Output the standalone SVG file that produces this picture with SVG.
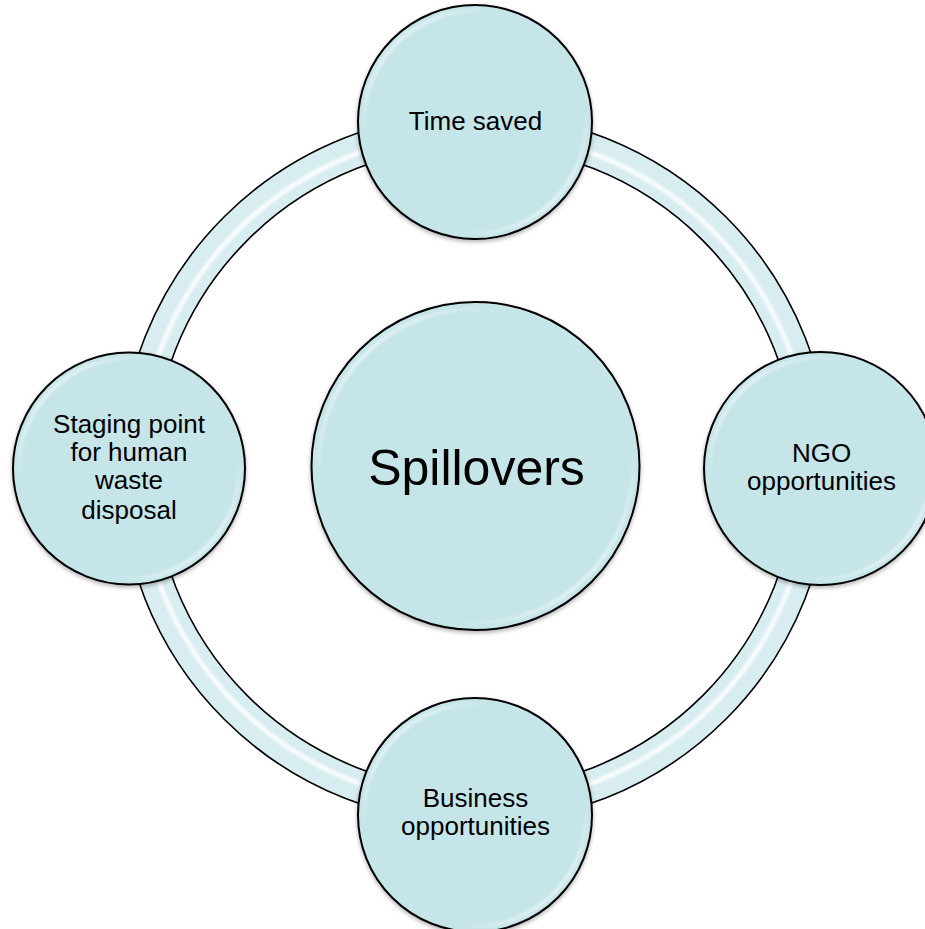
<svg xmlns="http://www.w3.org/2000/svg" width="925" height="929" viewBox="0 0 925 929">
  <defs>
    <linearGradient id="gloss" x1="0" y1="0" x2="1" y2="1">
      <stop offset="0" stop-color="#ffffff" stop-opacity="0.95"/>
      <stop offset="0.28" stop-color="#ffffff" stop-opacity="0"/>
      <stop offset="0.72" stop-color="#ffffff" stop-opacity="0"/>
      <stop offset="1" stop-color="#ffffff" stop-opacity="0.95"/>
    </linearGradient>
    <filter id="shadow" x="-20%" y="-20%" width="140%" height="140%">
      <feDropShadow dx="0" dy="2" stdDeviation="2" flood-color="#000000" flood-opacity="0.3"/>
    </filter>
    <filter id="soft" x="-10%" y="-10%" width="120%" height="120%">
      <feGaussianBlur stdDeviation="1.2"/>
    </filter>
  </defs>
  <style>
    .disc { fill: #c6e5e8; stroke: #000000; stroke-width: 2; }
    .shine { fill: none; stroke: url(#gloss); stroke-width: 4; }
    .label { font-family: "Liberation Sans", Arial, sans-serif; font-size: 26px; fill: #000000; text-anchor: middle; }
    .big { font-size: 50px; }
    .ringfill { fill: none; stroke: #d8edf0; stroke-width: 33; }
    .ringshine { fill: none; stroke: #ffffff; stroke-opacity: 0.8; stroke-width: 5; }
    .ringedge { fill: none; stroke: #000000; stroke-width: 1.6; }
  </style>

  <rect width="925" height="929" fill="#ffffff"/>

  <g id="connectors">
    <circle class="ringfill" cx="475" cy="468" r="338.5"/>
    <circle class="ringshine" cx="475" cy="468" r="336" filter="url(#soft)"/>
    <circle class="ringedge" cx="475" cy="468" r="355"/>
    <circle class="ringedge" cx="475" cy="468" r="322"/>
  </g>

  <g id="node-center">
    <circle class="disc" cx="475.5" cy="466" r="164" filter="url(#shadow)"/>
    <circle class="shine" cx="475.5" cy="466" r="157" filter="url(#soft)"/>
    <text class="label big" x="476.5" y="485">Spillovers</text>
  </g>

  <g id="node-top">
    <circle class="disc" cx="475" cy="122" r="117" filter="url(#shadow)"/>
    <circle class="shine" cx="475" cy="122" r="111" filter="url(#soft)"/>
    <text class="label" x="475.5" y="130">Time saved</text>
  </g>

  <g id="node-right">
    <circle class="disc" cx="820.5" cy="468.5" r="116.5" filter="url(#shadow)"/>
    <circle class="shine" cx="820.5" cy="468.5" r="110.5" filter="url(#soft)"/>
    <text class="label" x="821.5" y="462">NGO</text>
    <text class="label" x="821.5" y="490">opportunities</text>
  </g>

  <g id="node-bottom">
    <circle class="disc" cx="475" cy="815" r="117" filter="url(#shadow)"/>
    <circle class="shine" cx="475" cy="815" r="111" filter="url(#soft)"/>
    <text class="label" x="475.5" y="807">Business</text>
    <text class="label" x="475.5" y="835">opportunities</text>
  </g>

  <g id="node-left">
    <circle class="disc" cx="129" cy="468.5" r="116" filter="url(#shadow)"/>
    <circle class="shine" cx="129" cy="468.5" r="110" filter="url(#soft)"/>
    <text class="label" x="129" y="433">Staging point</text>
    <text class="label" x="129" y="461">for human</text>
    <text class="label" x="129" y="489">waste</text>
    <text class="label" x="129" y="519">disposal</text>
  </g>
</svg>
